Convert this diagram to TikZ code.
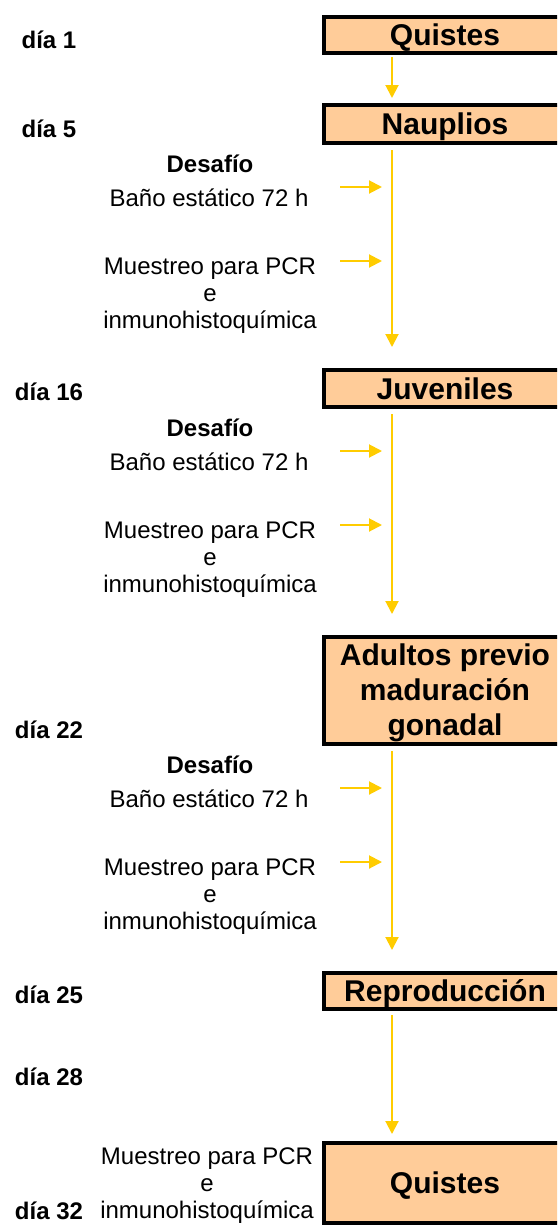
\documentclass[tikz,border=0pt]{standalone}
\usepackage{fontspec}
\setmainfont{Liberation Sans}
\usetikzlibrary{arrows.meta}
\definecolor{boxfill}{HTML}{FFCC99}
\definecolor{arrowcol}{HTML}{FFCC00}
\begin{document}
\begin{tikzpicture}[x=1pt,y=-1pt,
  stagebox/.style={draw=black, line width=4pt, fill=boxfill, inner sep=0pt,
    minimum width=242pt, font=\fontsize{30}{35}\selectfont\bfseries, align=center},
  onebox/.style={stagebox, text height=21.5pt, text depth=0pt},
  daylabel/.style={anchor=base, inner sep=0pt, font=\fontsize{24}{27}\selectfont\bfseries},
  sidetext/.style={anchor=base, inner sep=0pt, font=\fontsize{24}{27}\selectfont},
  sidemulti/.style={anchor=north, inner sep=0pt, align=center, font=\fontsize{24}{27}\selectfont},
  flow/.style={draw=arrowcol, line width=2pt, -{Triangle[width=13pt,length=13pt]}},
  side/.style={draw=arrowcol, line width=2pt, -{Triangle[width=13pt,length=13pt]}}
]
\useasboundingbox (0,0) rectangle (557,1226);
\clip (0,0) rectangle (557,1226);

% stage boxes
\node[onebox, minimum height=36pt] (q1) at (445,35) {Quistes};
\node[onebox, minimum height=38pt] (naup) at (445,124) {Nauplios};
\node[onebox, minimum height=37pt] (juv) at (445,388.5) {Juveniles};
\node[stagebox, minimum height=107pt] (adu) at (445,690.5) {};
\node[anchor=north, inner sep=0pt, align=center, font=\fontsize{30}{35}\selectfont\bfseries] (adut) at (445,644) {Adultos previo\\maduración\\gonadal};
\node[onebox, minimum height=36pt] (rep) at (445,991) {Reproducción};
\node[onebox, minimum height=80pt] (q2) at (445,1183) {Quistes};

% day labels
\node[daylabel] (d1) at (49,48) {día 1};
\node[daylabel] (d5) at (49,137) {día 5};
\node[daylabel] (d16) at (49,400) {día 16};
\node[daylabel] (d22) at (49,738) {día 22};
\node[daylabel] (d25) at (49,1003) {día 25};
\node[daylabel] (d28) at (49,1085) {día 28};
\node[daylabel] (d32) at (49,1219) {día 32};

% main flow arrows
\draw[flow, shorten <=2pt, shorten >=5pt] ([xshift=-53pt]q1.south) -- ([xshift=-53pt]naup.north);
\draw[flow, shorten <=5pt, shorten >=21pt] ([xshift=-53pt]naup.south) -- ([xshift=-53pt]juv.north);
\draw[flow, shorten <=5pt, shorten >=21pt] ([xshift=-53pt]juv.south) -- ([xshift=-53pt]adu.north);
\draw[flow, shorten <=5pt, shorten >=21pt] ([xshift=-53pt]adu.south) -- ([xshift=-53pt]rep.north);
\draw[flow, shorten <=4pt, shorten >=7pt] ([xshift=-53pt]rep.south) -- ([xshift=-53pt]q2.north);

% side texts and arrows for three challenge stages
\foreach \n/\dy in {a/0, b/264, c/601}{
  \node[sidetext, font=\fontsize{24}{27}\selectfont\bfseries] (des\n) at (210,172+\dy) {Desafío};
  \node[sidetext] (bano\n) at (209,206+\dy) {Baño estático 72 h};
  \node[sidemulti] (mue\n) at (210,258+\dy) {Muestreo para PCR\\e\\inmunohistoquímica};
  \coordinate (s1\n) at (340,187+\dy);
  \coordinate (e1\n) at (382,187+\dy);
  \coordinate (s2\n) at (340,261+\dy);
  \coordinate (e2\n) at (382,261+\dy);
  \draw[side] (s1\n) -- (e1\n);
  \draw[side] (s2\n) -- (e2\n);
}

% final sampling text
\node[sidemulti] (muef) at (207,1148) {Muestreo para PCR\\e\\inmunohistoquímica};
\end{tikzpicture}
\end{document}
